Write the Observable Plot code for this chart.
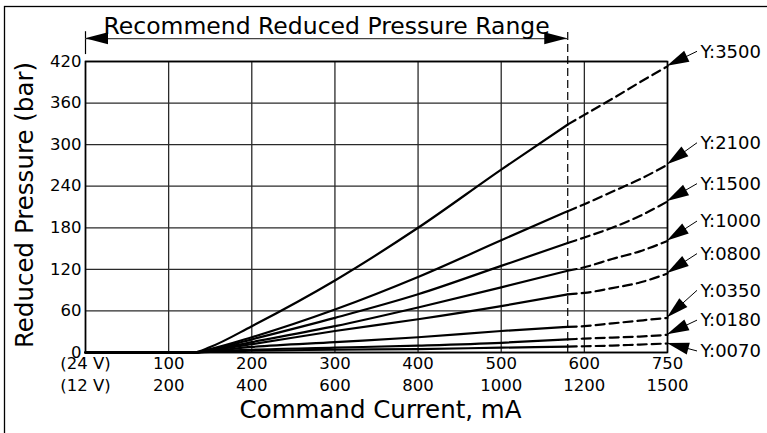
<!DOCTYPE html>
<html><head><meta charset="utf-8">
<script src="https://cdn.jsdelivr.net/npm/d3@7"></script>
<script src="https://cdn.jsdelivr.net/npm/@observablehq/plot@0.6"></script>
<style>body{margin:0;background:#fff}svg{display:block}</style>
</head><body><div id="chart"></div>
<script>
// ---- data ----
const xTicks = [0, 100, 200, 300, 400, 500, 600, 750];
const xLabels24 = ["(24 V)", "100", "200", "300", "400", "500", "600", "750"];
const xLabels12 = ["(12 V)", "200", "400", "600", "800", "1000", "1200", "1500"];
const yTicks = [0, 60, 120, 180, 240, 300, 360, 420];
const seriesNames = ["Y:3500", "Y:2100", "Y:1500", "Y:1000", "Y:0800", "Y:0350", "Y:0180", "Y:0070"];
const currentMA = [0, 130, 150, 200, 300, 400, 500, 580, 600, 650, 700, 750];
const y3500 = [0, 0, 8, 38, 104, 180, 264, 329, 343, 366, 390, 413];
const y2100 = [0, 0, 5, 22, 62, 109, 162, 204, 214, 232, 250, 271];
const y1500 = [0, 0, 4, 19, 50, 84, 125, 158, 166, 180, 197, 218];
const y1000 = [0, 0, 3.5, 15, 38, 65, 94, 118, 123, 135, 146, 161];
const y0800 = [0, 0, 3, 12, 31, 48, 67, 84, 86, 93, 101, 114];
const y0350 = [0, 0, 2, 8, 15, 22, 31, 37, 38, 42, 46, 50];
const y0180 = [0, 0, 1.5, 4, 7, 10, 14, 19, 20, 21.5, 23, 25.5];
const y0070 = [0, 0, 1, 2.5, 4, 5, 7, 8.6, 9, 10, 11.5, 13];
const recommendedMax = 580;
const titleText = "Recommend Reduced Pressure Range";

// ---- layout ----
const W = 767, H = 433;
const mL = 85, mR = 100, mT = 61, mB = 81;
const labelAnchorY = [434, 302, 243, 189, 142, 89, 46, 1.5]; // label positions (y units)
const rangeArrowY = 453, rangeTickTop = 463, rangeTickBottom = 430, titleY = 471;

const seriesValues = [y3500, y2100, y1500, y1000, y0800, y0350, y0180, y0070];
const rows = seriesNames.flatMap((s, k) => currentMA.map((x, i) => ({series: s, x, y: seriesValues[k][i]})));
const solid = rows.filter(d => d.x <= recommendedMax);
const dashed = rows.filter(d => d.x >= recommendedMax);
const ends = seriesNames.map((s, k) => ({series: s, x: currentMA[currentMA.length - 1], y: seriesValues[k][currentMA.length - 1], ly: labelAnchorY[k]}));

const font = "DejaVu Sans";

const chart = Plot.plot({
  width: W, height: H,
  marginLeft: mL, marginRight: mR, marginTop: mT, marginBottom: mB,
  style: {fontFamily: font, background: "#fff", color: "#000", overflow: "visible"},
  x: {type: "linear", domain: xTicks, axis: null},
  y: {domain: [0, 420], axis: null},
  marks: [
    Plot.ruleX(xTicks, {stroke: "#2a2a2a", strokeWidth: 1.3}),
    Plot.ruleY(yTicks, {stroke: "#2a2a2a", strokeWidth: 1.3}),
    Plot.frame({stroke: "#000", strokeWidth: 1.6}),
    Plot.ruleX([recommendedMax], {y1: 0, y2: rangeTickTop, stroke: "#000", strokeWidth: 1.2, strokeDasharray: "8,4"}),
    Plot.ruleX([0], {y1: rangeTickBottom, y2: rangeTickTop, stroke: "#000", strokeWidth: 1.2}),
    Plot.ruleY([rangeArrowY], {x1: 0, x2: recommendedMax, stroke: "#444", strokeWidth: 1.4}),
    Plot.line(solid, {x: "x", y: "y", z: "series", stroke: "#000", strokeWidth: 2.2, curve: "monotone-x"}),
    Plot.line(dashed, {x: "x", y: "y", z: "series", stroke: "#000", strokeWidth: 2.2, strokeDasharray: "9,5", curve: "monotone-x"}),
    Plot.text([titleText], {x: recommendedMax / 2, y: titleY, fontSize: 23.5, fill: "#000"}),
    Plot.text(xTicks, {x: d => d, frameAnchor: "bottom", dy: 16.5, text: (d, i) => xLabels24[i], fontSize: 16.5, fill: "#000"}),
    Plot.text(xTicks, {x: d => d, frameAnchor: "bottom", dy: 38.5, text: (d, i) => xLabels12[i], fontSize: 16.5, fill: "#000"}),
    Plot.text(yTicks, {y: d => d, frameAnchor: "left", dx: -4, textAnchor: "end", text: d => String(d), fontSize: 16.5, fill: "#000"}),
    Plot.text(["Command Current, mA"], {frameAnchor: "bottom", dy: 65, dx: 4, fontSize: 24.5, fill: "#000"}),
    Plot.text(["Reduced Pressure (bar)"], {frameAnchor: "left", textAnchor: "middle", dx: -60, dy: -2, rotate: -90, fontSize: 24.5, fill: "#000"}),
    Plot.text(ends, {x: "x", y: "ly", text: "series", dx: 33, textAnchor: "start", fontSize: 18, fill: "#000"})
  ]
});
document.getElementById("chart").append(chart);

// ---- annotations: leaders and filled arrowheads, positioned through Plot's scales ----
const sx = chart.scale("x"), sy = chart.scale("y");
const svg = d3.select(chart.tagName.toLowerCase() === "svg" ? chart : chart.querySelector("svg"));
const g = svg.append("g");
function arrowHead(tx, ty, lx, ly, len, hw) {
  const ddx = lx - tx, ddy = ly - ty, d = Math.hypot(ddx, ddy);
  const ux = ddx / d, uy = ddy / d;
  const bx = tx + ux * len, by = ty + uy * len;
  g.append("path")
    .attr("d", `M${tx},${ty}L${bx - uy * hw},${by + ux * hw}L${bx + uy * hw},${by - ux * hw}Z`)
    .attr("fill", "#000");
}
for (const e of ends) {
  const tx = sx.apply(e.x), ty = sy.apply(e.y);
  const lx = tx + 30, ly = sy.apply(e.ly);
  g.append("line").attr("x1", tx).attr("y1", ty).attr("x2", lx).attr("y2", ly)
    .attr("stroke", "#000").attr("stroke-width", 1);
  arrowHead(tx, ty, lx, ly, 22, 6);
}
{
  const ay = sy.apply(rangeArrowY), x0 = sx.apply(0), x1 = sx.apply(recommendedMax);
  arrowHead(x0, ay, x1, ay, 23, 6);
  arrowHead(x1, ay, x0, ay, 23, 6);
}
svg.append("rect").attr("x", 4.5).attr("y", 6.5).attr("width", 800).attr("height", 500)
  .attr("fill", "none").attr("stroke", "#000").attr("stroke-width", 1.3);
</script>
</body></html>
